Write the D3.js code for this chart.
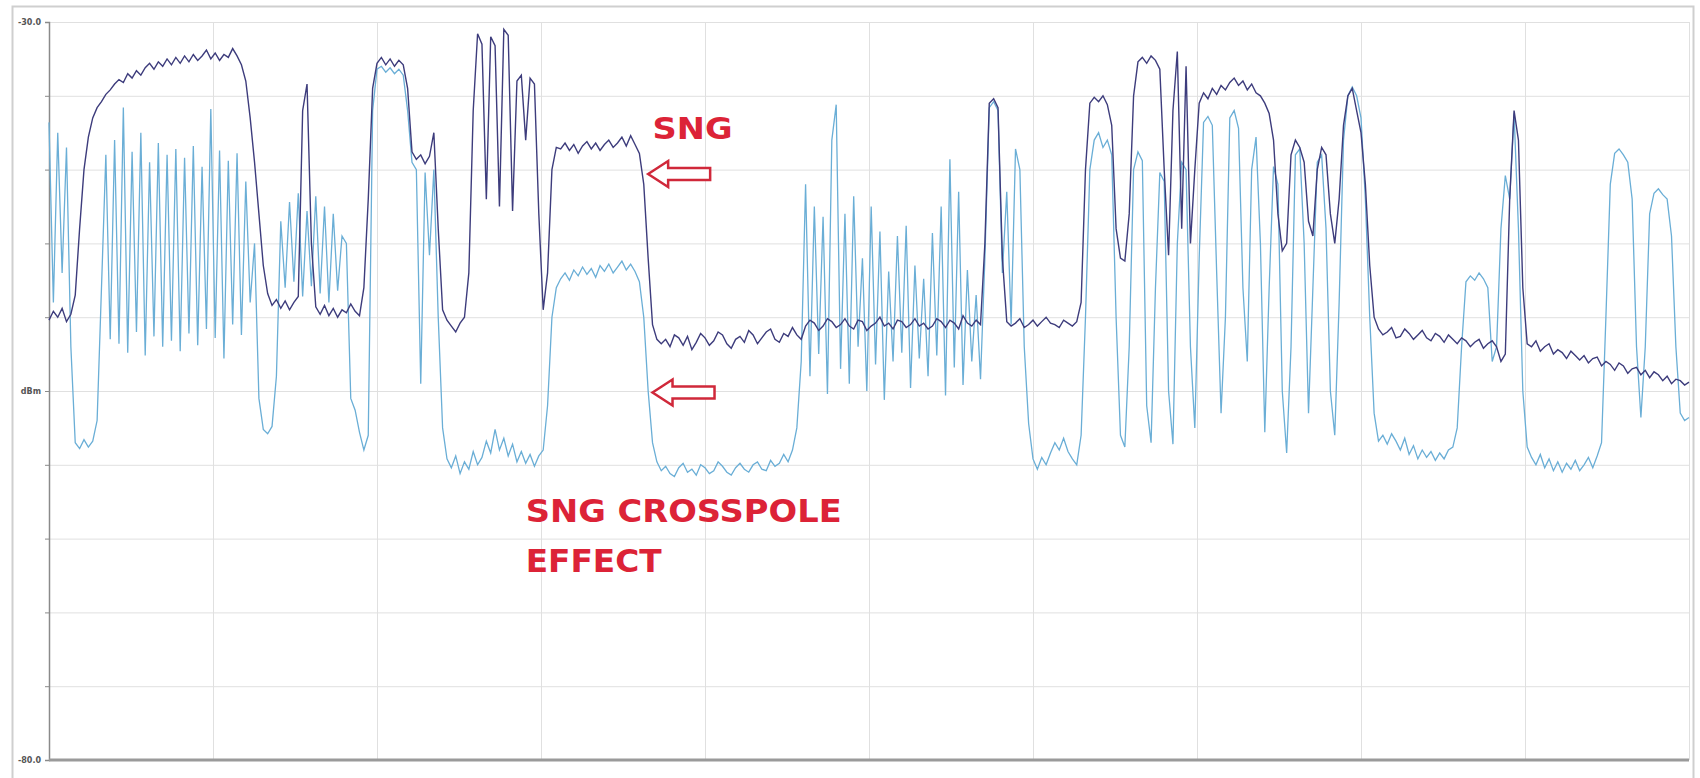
<!DOCTYPE html>
<html>
<head>
<meta charset="utf-8">
<script src="https://cdn.jsdelivr.net/npm/d3@7"></script>
<style>
body { margin: 0; background: #fff; }
</style>
</head>
<body>
<div id="chart"></div>
<script>
var sng_level = [
-50.2,-49.6,-50.0,-49.4,-50.3,-49.8,-48.5,-44.0,-40.0,-37.8,
-36.5,-35.8,-35.4,-34.9,-34.6,-34.2,-33.9,-34.1,-33.5,-33.8,
-33.3,-33.6,-33.1,-32.8,-33.2,-32.7,-33.0,-32.5,-32.9,-32.4,
-32.8,-32.3,-32.7,-32.2,-32.6,-32.3,-31.9,-32.5,-32.1,-32.6,
-32.2,-32.4,-31.8,-32.3,-32.9,-34.0,-36.5,-39.5,-43.0,-46.5,
-48.4,-49.2,-48.8,-49.4,-48.9,-49.5,-49.0,-48.6,-36.0,-34.2,
-45.0,-49.3,-49.8,-49.2,-49.9,-49.4,-50.0,-49.5,-49.7,-49.1,
-49.6,-49.9,-48.0,-42.0,-34.5,-32.8,-32.4,-32.9,-32.5,-33.0,
-32.6,-32.9,-34.5,-38.8,-39.3,-39.0,-39.6,-39.1,-37.5,-44.0,
-49.5,-50.2,-50.6,-51.0,-50.4,-50.0,-47.0,-36.0,-30.8,-31.5,
-42.0,-31.0,-31.6,-42.5,-30.5,-30.9,-42.8,-34.0,-33.6,-38.0,
-33.8,-34.2,-43.0,-49.5,-47.0,-40.0,-38.5,-38.6,-38.2,-38.7,
-38.3,-38.9,-38.4,-38.1,-38.6,-38.2,-38.7,-38.3,-38.0,-38.5,
-38.2,-37.8,-38.4,-37.7,-38.3,-38.9,-41.0,-46.0,-50.5,-51.5,
-51.8,-51.5,-52.0,-51.2,-51.4,-51.9,-51.3,-52.2,-51.7,-51.1,
-51.4,-51.9,-51.6,-51.0,-51.2,-51.8,-52.1,-51.5,-51.3,-51.7,
-50.9,-51.2,-51.8,-51.4,-51.0,-50.8,-51.5,-51.7,-51.1,-51.3,
-50.7,-51.2,-51.5,-50.6,-50.2,-50.4,-50.9,-50.6,-50.1,-50.3,
-50.7,-50.5,-50.1,-50.6,-50.8,-50.2,-50.3,-50.9,-50.6,-50.4,
-50.0,-50.6,-50.4,-50.8,-50.2,-50.3,-50.7,-50.5,-50.1,-50.6,
-50.4,-50.8,-50.6,-50.1,-50.3,-50.7,-50.2,-50.4,-50.8,-49.9,
-50.4,-50.6,-50.2,-50.5,-45.0,-35.5,-35.2,-35.8,-46.0,-50.3,
-50.6,-50.4,-50.1,-50.7,-50.5,-50.2,-50.6,-50.3,-50.0,-50.4,
-50.5,-50.7,-50.2,-50.4,-50.6,-50.3,-49.0,-40.0,-35.5,-35.1,
-35.4,-35.0,-35.6,-37.0,-44.0,-46.0,-46.2,-43.0,-35.0,-32.7,
-32.4,-32.8,-32.3,-32.6,-33.2,-40.0,-45.8,-36.0,-32.0,-44.0,
-33.0,-45.0,-40.0,-35.5,-34.8,-35.2,-34.5,-34.9,-34.3,-34.6,
-34.1,-33.8,-34.3,-34.0,-34.6,-34.2,-34.8,-35.0,-35.5,-36.2,
-38.0,-43.0,-45.5,-45.0,-39.0,-38.0,-38.5,-39.5,-43.5,-44.5,
-40.0,-38.5,-39.0,-43.0,-45.0,-42.0,-37.0,-35.0,-34.5,-36.0,
-37.5,-41.0,-46.5,-50.0,-50.8,-51.2,-51.0,-50.7,-51.4,-51.3,
-50.8,-51.1,-51.5,-51.2,-50.9,-51.4,-51.6,-51.1,-51.3,-51.7,
-51.2,-51.5,-51.8,-51.4,-51.6,-52.0,-51.7,-51.5,-52.1,-51.8,
-51.6,-52.0,-53.0,-52.5,-42.0,-36.0,-38.0,-48.0,-51.8,-52.0,
-51.6,-52.3,-52.0,-51.8,-52.5,-52.2,-52.4,-52.8,-52.3,-52.6,
-52.9,-52.6,-53.1,-52.8,-52.7,-53.3,-53.0,-53.2,-53.6,-53.1,
-53.3,-53.8,-53.5,-53.4,-53.9,-53.6,-54.1,-53.7,-53.9,-54.3,
-54.0,-54.5,-54.2,-54.3,-54.6,-54.4
]

var crosspol_level = [
-36.8,-49.0,-37.5,-47.0,-38.5,-52.0,-58.5,-58.9,-58.3,-58.8,
-58.4,-57.0,-48.0,-39.0,-51.5,-38.0,-51.8,-35.8,-52.4,-38.8,
-51.0,-37.5,-52.6,-39.5,-51.3,-38.2,-52.0,-39.0,-51.6,-38.6,
-52.3,-39.2,-51.1,-38.4,-51.9,-39.8,-50.8,-35.9,-51.4,-38.7,
-52.8,-39.4,-50.5,-38.9,-51.2,-40.8,-49.0,-45.0,-55.5,-57.6,
-57.9,-57.4,-54.0,-43.5,-48.0,-42.2,-47.6,-41.6,-48.6,-42.8,
-47.9,-41.8,-48.4,-42.5,-49.0,-43.0,-48.2,-44.5,-45.0,-55.5,
-56.3,-57.8,-59.0,-58.0,-36.0,-33.2,-33.0,-33.4,-33.1,-33.5,
-33.2,-33.6,-36.0,-39.5,-40.0,-54.5,-40.2,-45.8,-40.0,-50.0,
-57.5,-59.6,-60.2,-59.4,-60.6,-59.8,-60.3,-59.1,-60.0,-59.5,
-58.4,-59.2,-57.6,-59.0,-58.2,-59.4,-58.6,-59.8,-59.1,-59.9,
-59.3,-60.1,-59.4,-59.0,-56.0,-50.0,-48.0,-47.4,-47.0,-47.5,
-46.8,-47.2,-46.6,-47.1,-46.7,-47.3,-46.5,-46.9,-46.4,-47.0,
-46.6,-46.2,-46.8,-46.4,-46.9,-47.6,-50.0,-55.0,-58.5,-59.8,
-60.4,-60.1,-60.6,-60.8,-60.2,-59.9,-60.5,-60.3,-60.7,-60.0,
-60.2,-60.6,-60.4,-59.8,-60.1,-60.5,-60.7,-60.2,-59.9,-60.3,
-60.5,-60.0,-59.8,-60.3,-60.4,-59.7,-60.1,-59.9,-59.3,-59.8,
-59.0,-57.5,-53.0,-41.0,-54.0,-42.5,-52.5,-43.2,-55.2,-38.0,
-35.6,-53.5,-43.0,-54.5,-41.8,-52.0,-46.0,-55.0,-42.5,-53.2,
-44.2,-55.6,-46.9,-53.0,-44.5,-52.4,-43.8,-54.8,-46.5,-52.8,
-47.4,-54.0,-44.3,-52.6,-42.5,-55.3,-39.3,-53.4,-41.5,-54.6,
-46.8,-53.0,-48.5,-54.2,-46.0,-35.8,-35.4,-36.0,-47.0,-41.5,
-50.5,-38.6,-40.0,-52.0,-57.2,-59.6,-60.3,-59.5,-60.0,-59.2,
-58.5,-59.0,-58.2,-59.1,-59.6,-60.0,-58.0,-50.0,-40.0,-38.0,
-37.5,-38.5,-38.0,-39.0,-50.0,-58.0,-58.8,-52.0,-40.0,-38.8,
-39.4,-56.0,-58.5,-48.0,-40.2,-40.8,-55.0,-58.6,-45.0,-39.5,
-40.0,-52.0,-57.5,-46.0,-36.8,-36.4,-37.0,-47.0,-56.5,-50.0,
-36.5,-36.0,-37.2,-48.0,-53.0,-40.0,-37.8,-45.0,-57.8,-48.0,
-39.8,-41.0,-55.0,-59.2,-52.0,-39.0,-38.6,-45.0,-56.5,-48.0,
-39.5,-39.0,-44.0,-55.0,-58.0,-49.0,-38.0,-35.0,-34.4,-35.0,
-36.5,-42.0,-50.0,-56.5,-58.4,-58.0,-58.6,-57.9,-58.4,-59.0,
-58.2,-59.3,-58.7,-59.6,-59.0,-59.5,-59.1,-59.7,-59.2,-59.6,
-59.0,-58.8,-57.5,-52.0,-47.6,-47.2,-47.5,-47.0,-47.4,-48.0,
-53.0,-52.0,-44.0,-40.4,-42.0,-36.2,-44.0,-55.0,-58.8,-59.5,
-60.0,-59.3,-60.2,-59.6,-60.4,-59.8,-60.5,-59.9,-60.3,-59.7,
-60.4,-60.0,-59.5,-60.2,-59.4,-58.5,-50.0,-41.0,-38.9,-38.6,
-39.0,-39.5,-42.0,-52.0,-56.8,-52.0,-43.0,-41.6,-41.3,-41.7,
-42.0,-44.5,-52.0,-56.5,-57.0,-56.8
]

var ref_level = -30
var db_per_div = 5
var n_div = 10
var y_labels = ["-30.0", "dBm", "-80.0"]
var note_sng = "SNG"
var note_cross = ["SNG CROSSPOLE", "EFFECT"]

var width = 1700, height = 778
var margin = { top: 22, left: 49, right: 11, bottom: 18 }
var plot_w = width - margin.left - margin.right,
    plot_h = height - margin.top - margin.bottom

var svg = d3.select("#chart")
    .append("svg")
    .attr("width", width)
    .attr("height", height)
    .style("font-family", "'DejaVu Sans', 'Open Sans', sans-serif")

// outer window frame
svg.append("rect")
    .attr("x", 12.5).attr("y", 6.5)
    .attr("width", 1681).attr("height", 790)
    .attr("fill", "none")
    .attr("stroke", "#cfcfcf")
    .attr("stroke-width", 2)

var g = svg.append("g")
    .attr("transform", "translate(" + margin.left + "," + margin.top + ")")

var x = d3.scaleLinear()
    .domain([0, sng_level.length - 1])
    .range([0, plot_w])

var y = d3.scaleLinear()
    .domain([ref_level - db_per_div * n_div, ref_level])
    .range([plot_h, 0])

var y_ticks = d3.range(n_div + 1).map(d => ref_level - d * db_per_div)
var x_ticks = d3.range(n_div + 1).map(d => d * (sng_level.length - 1) / n_div)

//Grid
g.append("g")
    .call(d3.axisLeft(y).tickValues(y_ticks).tickSize(-plot_w).tickFormat(""))
    .call(s => s.select(".domain").remove())
    .call(s => s.selectAll("line").attr("stroke", "#e0e0e0"))

g.append("g")
    .attr("transform", "translate(0," + plot_h + ")")
    .call(d3.axisBottom(x).tickValues(x_ticks).tickSize(plot_h).tickFormat(""))
    .call(s => s.select(".domain").remove())
    .call(s => s.selectAll("line").attr("transform", "translate(0," + (-plot_h) + ")").attr("stroke", "#e0e0e0"))

// left axis with little ticks
g.append("g")
    .call(d3.axisLeft(y).tickValues(y_ticks).tickSize(4).tickFormat(""))
    .call(s => s.select(".domain").attr("stroke", "#8a8a8a").attr("stroke-width", 1.5))
    .call(s => s.selectAll("line").attr("stroke", "#8a8a8a"))

// bottom axis (thick)
g.append("line")
    .attr("x1", 0).attr("x2", plot_w)
    .attr("y1", plot_h).attr("y2", plot_h)
    .attr("stroke", "#9a9a9a")
    .attr("stroke-width", 3)

// y labels: top, middle, bottom
var label_levels = [y_ticks[0], y_ticks[n_div / 2], y_ticks[n_div]]
g.selectAll(".ylab")
    .data(label_levels)
    .enter().append("text")
    .attr("class", "ylab")
    .attr("x", -8)
    .attr("y", d => y(d) + 3)
    .attr("text-anchor", "end")
    .attr("font-size", 8)
    .attr("font-weight", "bold")
    .attr("fill", "#555")
    .text((d, i) => y_labels[i])

var line = d3.line()
    .x((d, i) => x(i))
    .y(d => y(d))

g.append("path")
    .datum(crosspol_level)
    .attr("d", line)
    .attr("fill", "none")
    .attr("stroke", "#6aaed6")
    .attr("stroke-width", 1.3)

g.append("path")
    .datum(sng_level)
    .attr("d", line)
    .attr("fill", "none")
    .attr("stroke", "#3d3c7c")
    .attr("stroke-width", 1.4)

// outlined arrows pointing left
function arrow(tx, ty) {
    var p = d3.path()
    p.moveTo(tx, ty)
    p.lineTo(tx + 20, ty - 13)
    p.lineTo(tx + 20, ty - 6)
    p.lineTo(tx + 62, ty - 6)
    p.lineTo(tx + 62, ty + 6)
    p.lineTo(tx + 20, ty + 6)
    p.lineTo(tx + 20, ty + 13)
    p.closePath()
    g.append("path")
        .attr("d", p.toString())
        .attr("fill", "#fff")
        .attr("stroke", "#d0283a")
        .attr("stroke-width", 2.5)
        .attr("stroke-linejoin", "miter")
}

var red = "#dc2337"
arrow(x(137), y(-40.3))
arrow(x(138), y(-55.1))

g.append("text")
    .attr("x", x(138))
    .attr("y", y(-37.9))
    .attr("font-size", 31)
    .attr("font-weight", "bold")
    .attr("fill", red)
    .attr("textLength", 80)
    .attr("lengthAdjust", "spacingAndGlyphs")
    .text(note_sng)

var cross_len = [316, 136]
g.selectAll(".cross")
    .data(note_cross)
    .enter().append("text")
    .attr("class", "cross")
    .attr("x", x(109))
    .attr("y", (d, i) => y(-63.9) + i * 50)
    .attr("font-size", 32)
    .attr("font-weight", "bold")
    .attr("fill", red)
    .attr("textLength", (d, i) => cross_len[i])
    .attr("lengthAdjust", "spacingAndGlyphs")
    .text(d => d)
</script>
</body>
</html>
